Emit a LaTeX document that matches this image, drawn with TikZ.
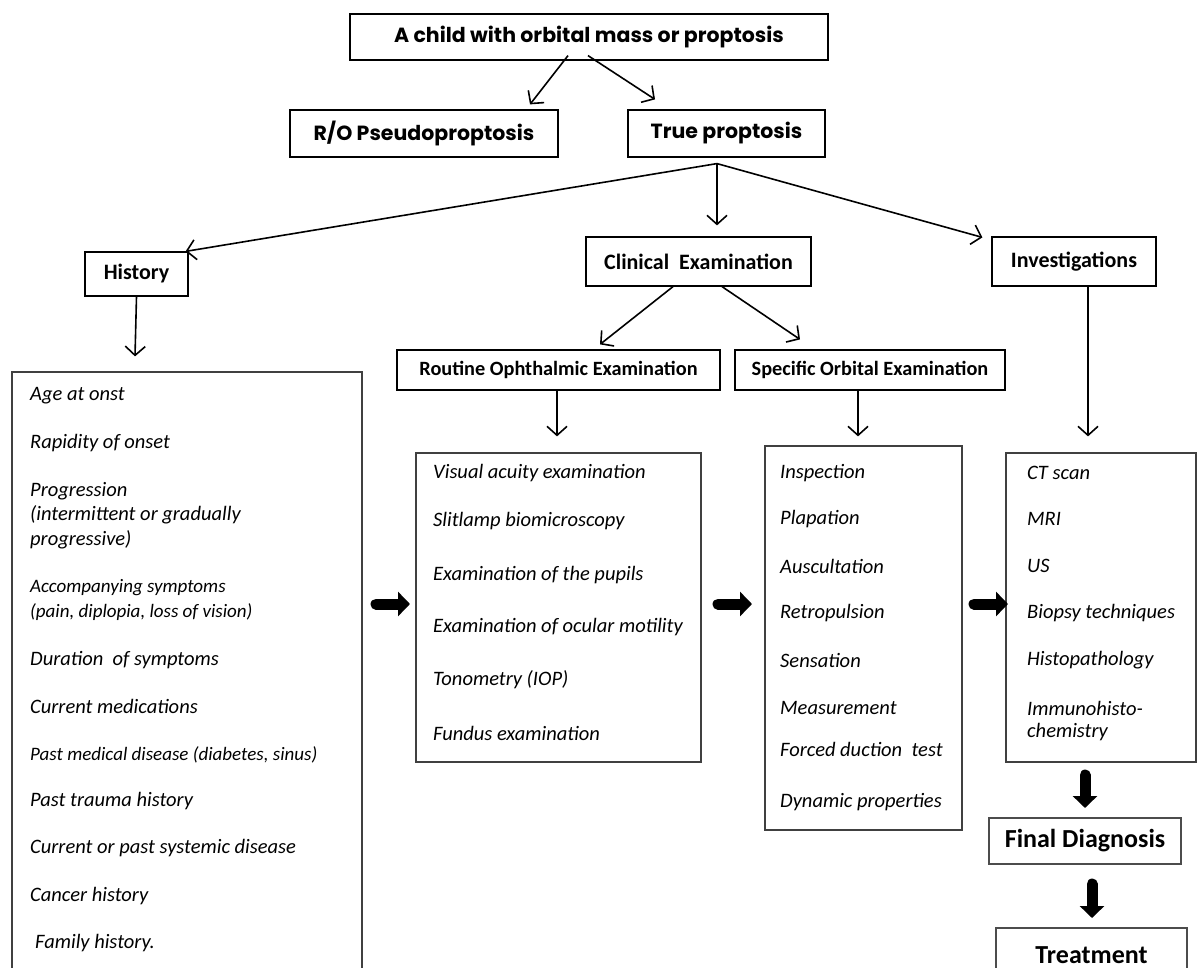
\documentclass[tikz,border=0pt]{standalone}
\usepackage{fontspec}
\setmainfont{Carlito}
\newfontfamily\geo{Poppins}
\usetikzlibrary{arrows.meta,calc}
\begin{document}
\begin{tikzpicture}[x=1pt,y=-1pt,
  topbox/.style={draw, line width=1.2pt, inner sep=0pt, font=\geo\bfseries\fontsize{20.5}{24}\selectfont},
  hbox/.style={draw, line width=1.2pt, inner sep=0pt, font=\bfseries\fontsize{22}{26}\selectfont},
  h2box/.style={hbox, font=\bfseries\fontsize{20.3}{24}\selectfont},
  fbox/.style={draw=black!70, line width=1.4pt, inner sep=0pt, font=\bfseries\fontsize{26}{30}\selectfont},
  lbox/.style={draw=black!75, line width=1.2pt, inner sep=0pt},
  item/.style={anchor=west, inner sep=0pt, font=\itshape\fontsize{20.5}{24}\selectfont},
  sitem/.style={anchor=west, inner sep=0pt, font=\itshape\fontsize{19}{22}\selectfont},
  arr/.style={line width=1.6pt, -{Straight Barb[length=9pt,width=20pt,line width=1.6pt]}},
  blk/.style={line width=11pt, line cap=round, -{Triangle[length=12pt,width=24pt]}},
]
\clip (0,0) rectangle (1197,968);
\fill[white] (0,0) rectangle (1197,968);

% header boxes
\node[topbox, minimum width=478pt, minimum height=46pt] (top) at (589,37) {A child with orbital mass or proptosis};
\node[topbox, minimum width=268pt, minimum height=47pt] (ro) at (424,133.5) {R/O Pseudoproptosis};
\node[topbox, minimum width=197pt, minimum height=47pt] (tp) at (726.5,133.5) {True proptosis};
\node[hbox, minimum width=103pt, minimum height=44pt] (hist) at (136.5,274) {History};
\node[hbox, minimum width=225pt, minimum height=49pt] (clin) at (698.5,261.5) {Clinical\ \ Examination};
\node[hbox, minimum width=164pt, minimum height=49pt] (inv) at (1074,261.5) {Investigations};
\node[h2box, minimum width=323pt, minimum height=40pt] (rout) at (558.5,370) {Routine Ophthalmic Examination};
\node[h2box, minimum width=270pt, minimum height=40pt] (spec) at (870,370) {Specific Orbital Examination};
\node[fbox, minimum width=192pt, minimum height=46pt] (final) at (1085,841) {Final Diagnosis};
\node[fbox, minimum width=191pt, minimum height=54pt] (treat) at (1091.5,955) {Treatment};

% list boxes
\node[lbox, minimum width=350pt, minimum height=628pt] (hl) at (187,686) {};
\node[lbox, minimum width=285pt, minimum height=309pt] (rl) at (558.5,607.5) {};
\node[lbox, minimum width=197pt, minimum height=384pt] (sl) at (863.5,638) {};
\node[lbox, minimum width=190pt, minimum height=309pt] (il) at (1101,607.5) {};

% history items
\node[item] (h1) at (30,396) {Age at onst};
\node[item] (h2) at (30,443) {Rapidity of onset};
\node[item] (h3) at (30,491) {Progression};
\node[item] (h3b) at (30,515) {(intermittent or gradually};
\node[item] (h3c) at (30,540) {progressive)};
\node[sitem] (h4) at (30,588) {Accompanying symptoms};
\node[sitem] (h4b) at (30,612) {(pain, diplopia, loss of vision)};
\node[item] (h5) at (30,660) {Duration\ \ of symptoms};
\node[item] (h6) at (30,706) {Current medications};
\node[sitem] (h7) at (30,755) {Past medical disease (diabetes, sinus)};
\node[item] (h8) at (30,801) {Past trauma history};
\node[item] (h9) at (30,848) {Current or past systemic disease};
\node[item] (h10) at (30,896) {Cancer history};
\node[item] (h11) at (35,943) {Family history.};

% routine items
\node[item] (r1) at (433,473) {Visual acuity examination};
\node[item] (r2) at (433,521) {Slitlamp biomicroscopy};
\node[item] (r3) at (433,575) {Examination of the pupils};
\node[item] (r4) at (433,627) {Examination of ocular motility};
\node[item] (r5) at (433,680) {Tonometry (IOP)};
\node[item] (r6) at (433,733) {Fundus examination};

% specific items
\node[item] (s1) at (780,473) {Inspection};
\node[item] (s2) at (780,519) {Plapation};
\node[item] (s3) at (780,566) {Auscultation};
\node[item] (s4) at (780,613) {Retropulsion};
\node[item] (s5) at (780,660) {Sensation};
\node[item] (s6) at (780,708) {Measurement};
\node[item] (s7) at (780,749) {Forced duction\ \ test};
\node[item] (s8) at (780,802) {Dynamic properties};

% investigation items
\node[item] (i1) at (1027,473) {CT scan};
\node[item] (i2) at (1027,519) {MRI};
\node[item] (i3) at (1027,566) {US};
\node[item] (i4) at (1027,613) {Biopsy techniques};
\node[item] (i5) at (1027,660) {Histopathology};
\node[item] (i6) at (1027,708) {Immunohisto-};
\node[item] (i7) at (1027,732) {chemistry};

% connectors
\draw[arr] ([xshift=-21pt,yshift=5pt]top.south) -- ([xshift=106pt,yshift=5pt]ro.north);
\draw[arr] ([xshift=-1pt,yshift=5pt]top.south) -- ([xshift=-71.5pt,yshift=10pt]tp.north);
\coordinate (tpb) at ([xshift=-9.5pt,yshift=-6pt]tp.south);
\draw[arr] (tpb) -- ([xshift=-3pt]hist.north east);
\draw[arr] (tpb) -- ($(tpb |- clin.north)+(0,-11)$);
\draw[arr] (tpb) -- ([xshift=-9pt,yshift=-1pt]inv.north west);
\draw[arr] (hist.south) -- ($(hist.south |- hl.north)+(-1.5,-15)$);
\draw[arr] ([xshift=-25.5pt]clin.south) -- ([xshift=41.5pt,yshift=5pt]rout.north);
\draw[arr] ([xshift=23.5pt]clin.south) -- ([xshift=-70pt,yshift=10pt]spec.north);
\draw[arr] ([xshift=-1.5pt]rout.south) -- ($([xshift=-1.5pt]rout.south |- rl.north)+(0,-16)$);
\draw[arr] ([xshift=-12pt]spec.south) -- ($([xshift=-12pt]spec.south |- sl.north)+(0,-9)$);
\draw[arr] ([xshift=14pt]inv.south) -- ($([xshift=14pt]inv.south |- il.north)+(0,-16)$);

% block arrows
\coordinate (b1s) at (376,604); \coordinate (b1e) at (410,604);
\coordinate (b2s) at (718,604); \coordinate (b2e) at (752,604);
\coordinate (b3s) at (974,604); \coordinate (b3e) at (1008,604);
\coordinate (b4s) at (1085,775); \coordinate (b4e) at (1085,808);
\coordinate (b5s) at (1092,884); \coordinate (b5e) at (1092,918);
\draw[blk] (b1s) -- (b1e);
\draw[blk] (b2s) -- (b2e);
\draw[blk] (b3s) -- (b3e);
\draw[blk] (b4s) -- (b4e);
\draw[blk] (b5s) -- (b5e);
\end{tikzpicture}
\end{document}
